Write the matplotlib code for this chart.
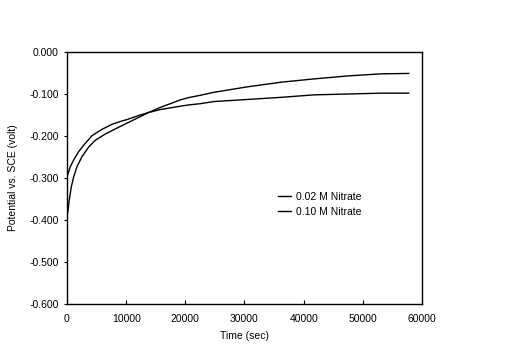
import numpy as np
import matplotlib
matplotlib.use('Agg')
import matplotlib.pyplot as plt

plt.rcParams['font.family'] = ['Liberation Sans', 'DejaVu Sans']

# Readings (time in sec, potential in volt)
t_a = [0, 110, 560, 1130, 1980, 3110, 4240, 5930, 7630, 9320, 10110, 12370, 13800,
       15760, 19150, 20560, 22540, 24800, 30450, 36100, 41750, 47400, 53050, 57750]
v_a = [-0.296, -0.293, -0.273, -0.257, -0.237, -0.217, -0.199, -0.184, -0.172, -0.164, -0.161,
       -0.150, -0.144, -0.137, -0.129, -0.126, -0.123, -0.118, -0.113, -0.108, -0.102, -0.100,
       -0.098, -0.098]

t_b = [0, 110, 390, 730, 1130, 1690, 2540, 3670, 4800, 6500, 8190, 9320, 10110, 12370,
       13800, 15760, 19150, 20560, 22540, 24800, 30450, 36100, 41750, 47400, 53050, 57750]
v_b = [-0.386, -0.384, -0.352, -0.321, -0.297, -0.273, -0.249, -0.226, -0.210, -0.195, -0.183,
       -0.175, -0.1695, -0.154, -0.144, -0.132, -0.114, -0.1085, -0.103, -0.096, -0.083, -0.072,
       -0.064, -0.057, -0.052, -0.051]

labels = ['0.02 M Nitrate', '0.10 M Nitrate']
xticks = [0, 10000, 20000, 30000, 40000, 50000, 60000]
yticks = [0.0, -0.1, -0.2, -0.3, -0.4, -0.5, -0.6]

fig = plt.figure(figsize=(5.25, 3.58), dpi=100)
ax = fig.add_axes([0.1276, 0.1508, 0.6762, 0.7039])

ax.plot(t_a, v_a, color='black', lw=1.0, label=labels[0])
ax.plot(t_b, v_b, color='black', lw=1.0, label=labels[1])

ax.set_xlim(0, 60000)
ax.set_ylim(-0.6, 0.0)
ax.set_xticks(xticks)
ax.set_xticklabels([str(x) for x in xticks])
ax.set_yticks(yticks)
ax.set_yticklabels(['%.3f' % y for y in yticks])
ax.tick_params(axis='x', direction='in', length=3, width=0.8, labelsize=7.5, pad=7)
ax.tick_params(axis='y', direction='out', length=2, width=0.8, labelsize=7.5, pad=4)
for s in ax.spines.values():
    s.set_linewidth(1.0)

ax.set_xlabel('Time (sec)', fontsize=7.5, labelpad=5)
ax.set_ylabel('Potential vs. SCE (volt)', fontsize=7.5, labelpad=8)

ax.legend(loc='upper left', bbox_to_anchor=(0.594, 0.444), frameon=False, fontsize=7.5,
          handlelength=1.25, handletextpad=0.5, labelspacing=0.45,
          borderpad=0, borderaxespad=0)

fig.savefig('out.png', dpi=100)
